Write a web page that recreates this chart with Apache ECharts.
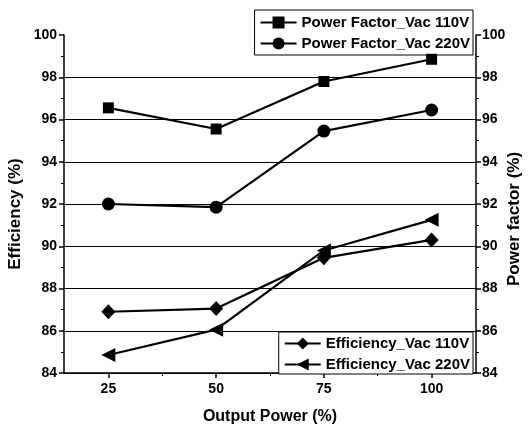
<!DOCTYPE html>
<html>
<head>
<meta charset="utf-8">
<script src="https://cdn.jsdelivr.net/npm/echarts@6/dist/echarts.min.js"></script>
<style>
html, body { margin: 0; padding: 0; background: #fff; }
#main { width: 530px; height: 435px; }
</style>
</head>
<body>
<div id="main"></div>
<script>
// 横坐标：输出功率 (%)
var outputPower = [25, 50, 75, 100];
var majorTicks = [25, 50, 75, 100];
var minorTicks = [37.5, 62.5, 87.5];
// 功率因数
var pf110 = [96.55, 95.55, 97.8, 98.85];
var pf220 = [92.0, 91.85, 95.45, 96.45];
// 效率
var eff110 = [86.9, 87.05, 89.45, 90.3];
var eff220 = [84.85, 86.05, 89.8, 91.25];

var FONT = '"Liberation Sans", Arial, sans-serif';
var LEFT_TRI = 'path://M0,5 L10,0 L10,10 Z';

function pairs (ys) {
    return outputPower.map(function (x, i) { return [x, ys[i]]; });
}

function makeSeries (name, ys, symbol, size, axis) {
    return {
        name: name,
        type: 'line',
        yAxisIndex: axis,
        data: pairs(ys),
        symbol: symbol,
        symbolSize: size,
        lineStyle: { color: '#000', width: 2.2 },
        itemStyle: { color: '#000' },
        z: 5
    };
}

var myChart = echarts.init(document.getElementById('main'));

var axisText = { color: '#000', fontWeight: 'bold', fontFamily: FONT };

var legendBase = {
    orient: 'vertical',
    right: 57,
    backgroundColor: '#fff',
    borderColor: '#000',
    borderWidth: 1,
    itemWidth: 36,
    itemHeight: 15,
    itemGap: 6,
    textStyle: { color: '#000', fontSize: 15, lineHeight: 15, fontWeight: 'bold', fontFamily: FONT }
};

var option = {
    animation: false,
    backgroundColor: '#fff',
    // 绘图区位置（不自动收缩）
    grid: { left: 64, right: 54, top: 35, bottom: 62, outerBoundsMode: 'none', containLabel: false },
    legend: [
        Object.assign({}, legendBase, {
            top: 10,
            padding: [5, 3, 4, 5],
            data: ['Power Factor_Vac 110V', 'Power Factor_Vac 220V']
        }),
        Object.assign({}, legendBase, {
            top: 332,
            padding: [4, 3, 2, 5],
            data: ['Efficiency_Vac 110V', 'Efficiency_Vac 220V']
        })
    ],
    xAxis: [
        {
            type: 'value',
            min: 14.7,
            max: 110.3,
            name: 'Output Power (%)',
            nameLocation: 'middle',
            nameGap: 36,
            nameTextStyle: Object.assign({ fontSize: 16 }, axisText),
            axisLine: { onZero: false, lineStyle: { color: '#000', width: 1.5 } },
            axisTick: { customValues: majorTicks, length: 5, lineStyle: { color: '#000', width: 1.5 } },
            axisLabel: Object.assign({ customValues: majorTicks, fontSize: 14, margin: 9 }, axisText),
            splitLine: { show: false }
        },
        {
            type: 'value',
            min: 14.7,
            max: 110.3,
            position: 'bottom',
            axisLine: { show: false },
            axisTick: { customValues: minorTicks, length: 3, lineStyle: { color: '#000', width: 1 } },
            axisLabel: { show: false },
            splitLine: { show: false }
        }
    ],
    yAxis: [
        {
            type: 'value',
            min: 84,
            max: 100,
            interval: 2,
            name: 'Efficiency (%)',
            nameLocation: 'middle',
            nameGap: 40,
            nameMoveOverlap: false,
            nameTextStyle: Object.assign({ fontSize: 17, padding: [0, 20, 0, 0] }, axisText),
            axisLine: { show: true, lineStyle: { color: '#000', width: 1.5 } },
            axisTick: { show: true, length: 5, lineStyle: { color: '#000', width: 1.5 } },
            minorTick: { show: true, splitNumber: 2, length: 3, lineStyle: { color: '#000' } },
            axisLabel: Object.assign({ fontSize: 14, margin: 7 }, axisText),
            splitLine: { show: true, showMaxLine: false, lineStyle: { color: '#000', width: 1 } }
        },
        {
            type: 'value',
            min: 84,
            max: 100,
            interval: 2,
            position: 'right',
            name: 'Power factor (%)',
            nameLocation: 'middle',
            nameGap: 30,
            nameMoveOverlap: false,
            nameTextStyle: Object.assign({ fontSize: 17, padding: [0, 30, 0, 0] }, axisText),
            axisLine: { show: true, lineStyle: { color: '#000', width: 1.5 } },
            axisTick: { show: true, length: 5, lineStyle: { color: '#000', width: 1.5 } },
            minorTick: { show: true, splitNumber: 2, length: 3, lineStyle: { color: '#000' } },
            axisLabel: Object.assign({ fontSize: 14, margin: 6 }, axisText),
            splitLine: { show: false }
        }
    ],
    series: [
        makeSeries('Power Factor_Vac 110V', pf110, 'rect', 11, 1),
        makeSeries('Power Factor_Vac 220V', pf220, 'circle', 13, 1),
        makeSeries('Efficiency_Vac 110V', eff110, 'diamond', [14, 15], 0),
        makeSeries('Efficiency_Vac 220V', eff220, LEFT_TRI, 14, 0)
    ]
};

myChart.setOption(option);
</script>
</body>
</html>
